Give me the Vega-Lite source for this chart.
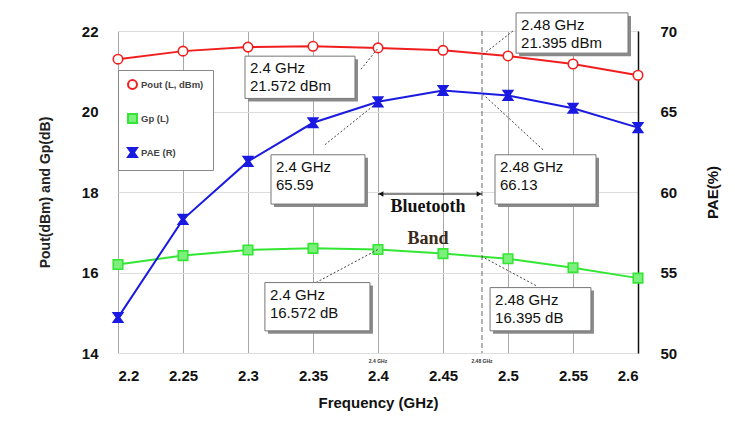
{
  "$schema": "https://vega.github.io/schema/vega-lite/v6.json",
  "width": 520,
  "height": 322,
  "autosize": {"type": "none"},
  "padding": {"left": 118, "top": 31, "right": 97, "bottom": 81},
  "background": "white",
  "config": {"view": {"stroke": null}, "font": "Liberation Sans"},
  "datasets": {
    "main": [
      {"f": 2.2, "series": "Pout (L, dBm)", "v": 21.3},
      {"f": 2.25, "series": "Pout (L, dBm)", "v": 21.5},
      {"f": 2.3, "series": "Pout (L, dBm)", "v": 21.6},
      {"f": 2.35, "series": "Pout (L, dBm)", "v": 21.62},
      {"f": 2.4, "series": "Pout (L, dBm)", "v": 21.58},
      {"f": 2.45, "series": "Pout (L, dBm)", "v": 21.52},
      {"f": 2.5, "series": "Pout (L, dBm)", "v": 21.38},
      {"f": 2.55, "series": "Pout (L, dBm)", "v": 21.18},
      {"f": 2.6, "series": "Pout (L, dBm)", "v": 20.9},
      {"f": 2.2, "series": "Gp (L)", "v": 16.2},
      {"f": 2.25, "series": "Gp (L)", "v": 16.42},
      {"f": 2.3, "series": "Gp (L)", "v": 16.56},
      {"f": 2.35, "series": "Gp (L)", "v": 16.6},
      {"f": 2.4, "series": "Gp (L)", "v": 16.57},
      {"f": 2.45, "series": "Gp (L)", "v": 16.47},
      {"f": 2.5, "series": "Gp (L)", "v": 16.34},
      {"f": 2.55, "series": "Gp (L)", "v": 16.12},
      {"f": 2.6, "series": "Gp (L)", "v": 15.86},
      {"f": 2.2, "series": "PAE (R)", "v": 52.2},
      {"f": 2.25, "series": "PAE (R)", "v": 58.3},
      {"f": 2.3, "series": "PAE (R)", "v": 61.9},
      {"f": 2.35, "series": "PAE (R)", "v": 64.3},
      {"f": 2.4, "series": "PAE (R)", "v": 65.6},
      {"f": 2.45, "series": "PAE (R)", "v": 66.3},
      {"f": 2.5, "series": "PAE (R)", "v": 66.0},
      {"f": 2.55, "series": "PAE (R)", "v": 65.2},
      {"f": 2.6, "series": "PAE (R)", "v": 64.0}
    ],
    "ann": [
      {"t": "2.4 GHz\n21.572 dBm", "x1": 2.2977, "x2": 2.3823, "y1": 21.375, "y2": 20.325, "lx": 2.3869, "ly": 21.05, "px": 2.4, "py": 21.572},
      {"t": "2.48 GHz\n21.395 dBm", "x1": 2.5062, "x2": 2.5923, "y1": 22.45, "y2": 21.45, "lx": 2.5038, "ly": 22.0, "px": 2.48, "py": 21.395},
      {"t": "2.4 GHz\n65.59", "x1": 2.3177, "x2": 2.39, "y1": 18.925, "y2": 17.7, "lx": 2.3592, "ly": 19.175, "px": 2.4, "py": 20.235},
      {"t": "2.48 GHz\n66.13", "x1": 2.49, "x2": 2.5677, "y1": 18.925, "y2": 17.7, "lx": 2.5269, "ly": 19.05, "px": 2.48, "py": 20.45},
      {"t": "2.4 GHz\n16.572 dB", "x1": 2.313, "x2": 2.3938, "y1": 15.75, "y2": 14.55, "lx": 2.3523, "ly": 15.75, "px": 2.4, "py": 16.572},
      {"t": "2.48 GHz\n16.395 dB", "x1": 2.4862, "x2": 2.5638, "y1": 15.625, "y2": 14.55, "lx": 2.5215, "ly": 15.675, "px": 2.48, "py": 16.395}
    ],
    "band": [{"x": 2.4, "x2": 2.48, "y": 17.95}],
    "bandtext": [
      {"x": 2.4385, "y": 17.625, "t": "Bluetooth", "c": "a"},
      {"x": 2.4385, "y": 16.825, "t": "Band", "c": "b"}
    ],
    "tiny": [{"x": 2.4, "t": "2.4 GHz"}, {"x": 2.48, "t": "2.48 GHz"}],
    "dash": [{"x": 2.48}]
  },
  "layer": [
    {
      "layer": [
        {
          "data": {"name": "main"},
          "transform": [{"filter": "datum.series !== 'PAE (R)'"}],
          "mark": {"type": "line", "strokeWidth": 2},
          "encoding": {
            "x": {
              "field": "f", "type": "quantitative", "title": "Frequency (GHz)",
              "scale": {"domain": [2.2, 2.6], "nice": false, "zero": false},
              "axis": {
                "values": [2.2, 2.25, 2.3, 2.35, 2.4, 2.45, 2.5, 2.55, 2.6],
                "format": ".2~f",
                "labelFontSize": 15, "labelFontWeight": "bold", "labelColor": "#111",
                "labelPadding": 15, "ticks": false, "domain": false,
                "grid": true, "gridColor": "#a8a8a8", "gridWidth": 1,
                "titleFontSize": 15, "titleFontWeight": "bold", "titleColor": "#111", "titlePadding": 12
              }
            },
            "y": {
              "field": "v", "type": "quantitative", "title": "Pout(dBm) and Gp(dB)",
              "scale": {"domain": [14, 22], "nice": false, "zero": false},
              "axis": {
                "values": [14, 16, 18, 20, 22], "format": "d",
                "labelFontSize": 15, "labelFontWeight": "bold", "labelColor": "#111",
                "labelPadding": 20, "ticks": false, "domain": false,
                "grid": true, "gridColor": "#dddddd",
                "titleFontSize": 14, "titleFontWeight": "bold", "titleColor": "#222", "titlePadding": 29
              }
            },
            "stroke": {"field": "series", "type": "nominal",
              "scale": {"domain": ["Pout (L, dBm)", "Gp (L)", "PAE (R)"], "range": ["#f01e1e", "#33e633", "#1a1ae0"]},
              "legend": {"title": null, "orient": "none", "legendX": 0, "legendY": 39, "direction": "vertical",
                "fillColor": "white", "strokeColor": "#888", "padding": 9, "rowPadding": 17,
                "labelFontSize": 9.5, "labelFontWeight": "bold", "labelColor": "#444", "symbolSize": 80, "symbolStrokeWidth": 2, "labelOffset": 3}}
          }
        },
        {
          "data": {"name": "dash"},
          "mark": {"type": "rule", "color": "#666", "strokeDash": [5, 3], "strokeWidth": 1},
          "encoding": {
            "x": {"field": "x", "type": "quantitative", "title": "Frequency (GHz)"}
          }
        },
        {
          "data": {"name": "main"},
          "transform": [{"filter": "datum.series !== 'PAE (R)'"}],
          "mark": {"type": "point", "strokeWidth": 1.6, "opacity": 1, "size": 90},
          "encoding": {
            "x": {"field": "f", "type": "quantitative", "title": "Frequency (GHz)"},
            "y": {"field": "v", "type": "quantitative", "title": "Pout(dBm) and Gp(dB)"},
            "stroke": {"field": "series", "type": "nominal"},
            "fill": {"field": "series", "type": "nominal",
              "scale": {"domain": ["Pout (L, dBm)", "Gp (L)", "PAE (R)"], "range": ["white", "#7cef7c", "#1a1ae0"]}},
            "shape": {"field": "series", "type": "nominal",
              "scale": {"domain": ["Pout (L, dBm)", "Gp (L)", "PAE (R)"], "range": ["circle", "square", "M-1,-1H1L0.3,0L1,1H-1L-0.3,0Z"]}}
          }
        },
        {
          "data": {"name": "ann"},
          "mark": {"type": "rule", "color": "#444", "strokeDash": [2, 2], "strokeWidth": 1},
          "encoding": {
            "x": {"field": "lx", "type": "quantitative", "title": "Frequency (GHz)"},
            "x2": {"field": "px"},
            "y": {"field": "ly", "type": "quantitative", "title": "Pout(dBm) and Gp(dB)"},
            "y2": {"field": "py"}
          }
        },
        {
          "data": {"name": "ann"},
          "mark": {"type": "rect", "fill": "#8a8a8a", "xOffset": 3, "x2Offset": 3, "yOffset": 3, "y2Offset": 3},
          "encoding": {
            "x": {"field": "x1", "type": "quantitative", "title": "Frequency (GHz)"},
            "x2": {"field": "x2"},
            "y": {"field": "y1", "type": "quantitative", "title": "Pout(dBm) and Gp(dB)"},
            "y2": {"field": "y2"}
          }
        },
        {
          "data": {"name": "ann"},
          "mark": {"type": "rect", "fill": "white", "stroke": "#777", "strokeWidth": 1},
          "encoding": {
            "x": {"field": "x1", "type": "quantitative", "title": "Frequency (GHz)"},
            "x2": {"field": "x2"},
            "y": {"field": "y1", "type": "quantitative", "title": "Pout(dBm) and Gp(dB)"},
            "y2": {"field": "y2"}
          }
        },
        {
          "data": {"name": "ann"},
          "mark": {"type": "text", "align": "left", "baseline": "top", "dx": 5, "dy": 5, "fontSize": 15, "lineHeight": 18, "lineBreak": "\n", "color": "#111"},
          "encoding": {
            "x": {"field": "x1", "type": "quantitative", "title": "Frequency (GHz)"},
            "y": {"field": "y1", "type": "quantitative", "title": "Pout(dBm) and Gp(dB)"},
            "text": {"field": "t"}
          }
        },
        {
          "data": {"name": "band"},
          "mark": {"type": "rule", "color": "#111", "strokeWidth": 1},
          "encoding": {
            "x": {"field": "x", "type": "quantitative", "title": "Frequency (GHz)"},
            "x2": {"field": "x2"},
            "y": {"field": "y", "type": "quantitative", "title": "Pout(dBm) and Gp(dB)"}
          }
        },
        {
          "data": {"name": "band"},
          "mark": {"type": "point", "shape": "triangle-left", "filled": true, "color": "#111", "size": 30, "opacity": 1, "xOffset": 3},
          "encoding": {
            "x": {"field": "x", "type": "quantitative", "title": "Frequency (GHz)"},
            "y": {"field": "y", "type": "quantitative", "title": "Pout(dBm) and Gp(dB)"}
          }
        },
        {
          "data": {"name": "band"},
          "mark": {"type": "point", "shape": "triangle-right", "filled": true, "color": "#111", "size": 30, "opacity": 1, "xOffset": -3},
          "encoding": {
            "x": {"field": "x2", "type": "quantitative", "title": "Frequency (GHz)"},
            "y": {"field": "y", "type": "quantitative", "title": "Pout(dBm) and Gp(dB)"}
          }
        },
        {
          "data": {"name": "bandtext"},
          "transform": [{"filter": "datum.c === 'a'"}],
          "mark": {"type": "text", "font": "Liberation Serif", "fontWeight": "bold", "fontSize": 18, "align": "center", "baseline": "middle", "color": "#111"},
          "encoding": {
            "x": {"field": "x", "type": "quantitative", "title": "Frequency (GHz)"},
            "y": {"field": "y", "type": "quantitative", "title": "Pout(dBm) and Gp(dB)"},
            "text": {"field": "t"}
          }
        },
        {
          "data": {"name": "bandtext"},
          "transform": [{"filter": "datum.c === 'b'"}],
          "mark": {"type": "text", "font": "Liberation Serif", "fontWeight": "bold", "fontSize": 18, "align": "center", "baseline": "middle", "color": "#3a2a1a"},
          "encoding": {
            "x": {"field": "x", "type": "quantitative", "title": "Frequency (GHz)"},
            "y": {"field": "y", "type": "quantitative", "title": "Pout(dBm) and Gp(dB)"},
            "text": {"field": "t"}
          }
        },
        {
          "data": {"name": "tiny"},
          "mark": {"type": "text", "fontSize": 5, "fontWeight": "bold", "color": "#333", "align": "center", "baseline": "middle"},
          "encoding": {
            "x": {"field": "x", "type": "quantitative", "title": "Frequency (GHz)"},
            "y": {"datum": 13.8, "type": "quantitative", "title": "Pout(dBm) and Gp(dB)"},
            "text": {"field": "t"}
          }
        }
      ]
    },
    {
      "data": {"name": "main"},
      "transform": [{"filter": "datum.series === 'PAE (R)'"}],
      "encoding": {
        "x": {"field": "f", "type": "quantitative", "title": "Frequency (GHz)"},
        "y": {
          "field": "v", "type": "quantitative", "title": "PAE(%)",
          "scale": {"domain": [50, 70], "nice": false, "zero": false},
          "axis": {
            "orient": "right", "values": [50, 55, 60, 65, 70],
            "labelFontSize": 15, "labelFontWeight": "bold", "labelColor": "#111", "labelPadding": 22,
            "ticks": false, "domain": true, "domainColor": "#111", "domainWidth": 1.5, "grid": false,
            "titleFontSize": 15, "titleFontWeight": "bold", "titleColor": "#111", "titlePadding": 44, "titleAngle": 270
          }
        }
      },
      "layer": [
        {
          "mark": {"type": "line", "strokeWidth": 2},
          "encoding": {
            "stroke": {"field": "series", "type": "nominal"}
          }
        },
        {
          "mark": {"type": "point", "strokeWidth": 1.6, "opacity": 1, "size": 90},
          "encoding": {
            "stroke": {"field": "series", "type": "nominal"},
            "fill": {"field": "series", "type": "nominal"},
            "shape": {"field": "series", "type": "nominal"}
          }
        }
      ]
    }
  ],
  "resolve": {"scale": {"y": "independent"}}
}
